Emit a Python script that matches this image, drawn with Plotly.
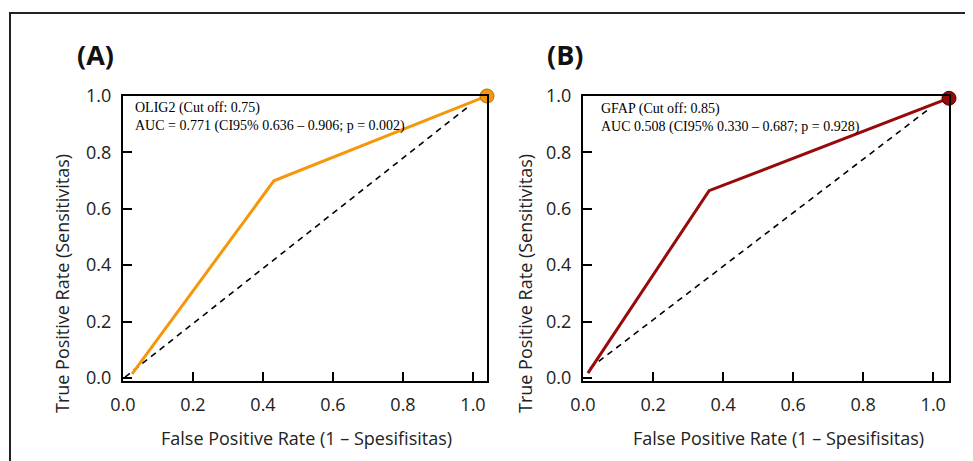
import plotly.graph_objects as go

# page body has an 8px margin: figure is sized to fill the rest of the 973x461 window
OFF = 8
W, H = 973 - OFF, 461 - OFF

# ---- data ----
fpr_a = [0.026, 0.431, 1.04]
tpr_a = [0.014, 0.699, 1.0]
ref_x_a = [0.006, 0.983]
ref_y_a = [0.003, 0.959]

fpr_b = [0.014, 0.36, 1.045]
tpr_b = [0.017, 0.664, 0.992]
ref_x_b = [0.02, 0.993]
ref_y_b = [0.035, 0.959]

tick_vals = [0.0, 0.2, 0.4, 0.6, 0.8, 1.0]
tick_text = ["0.0", "0.2", "0.4", "0.6", "0.8", "1.0"]

label_a = "OLIG2 (Cut off: 0.75)<br>AUC = 0.771 (CI95% 0.636 – 0.906; p = 0.002)"
label_b = "GFAP (Cut off: 0.85)<br>AUC 0.508 (CI95% 0.330 – 0.687; p = 0.928)"
x_title = "False Positive Rate (1 – Spesifisitas)"
y_title = "True Positive Rate (Sensitivitas)"

orange = "#F6960A"
darkred = "#960A0A"

def px(x):
    return (x - OFF) / W

def py(y):
    return 1 - (y - OFF) / H

fig = go.Figure()

# Panel A
fig.add_trace(go.Scatter(x=ref_x_a, y=ref_y_a, mode="lines", xaxis="x", yaxis="y",
                         line=dict(color="black", width=1.6, dash="6px,5px"), showlegend=False))
fig.add_trace(go.Scatter(x=fpr_a, y=tpr_a, mode="lines", xaxis="x", yaxis="y",
                         line=dict(color=orange, width=3), showlegend=False, cliponaxis=False))
fig.add_trace(go.Scatter(x=[fpr_a[-1]], y=[tpr_a[-1]], mode="markers", xaxis="x", yaxis="y",
                         marker=dict(color=orange, size=14, line=dict(color="#B86E00", width=1)),
                         showlegend=False, cliponaxis=False))
# Panel B
fig.add_trace(go.Scatter(x=ref_x_b, y=ref_y_b, mode="lines", xaxis="x2", yaxis="y2",
                         line=dict(color="black", width=1.6, dash="6px,5px"), showlegend=False))
fig.add_trace(go.Scatter(x=fpr_b, y=tpr_b, mode="lines", xaxis="x2", yaxis="y2",
                         line=dict(color=darkred, width=3), showlegend=False, cliponaxis=False))
fig.add_trace(go.Scatter(x=[fpr_b[-1]], y=[tpr_b[-1]], mode="markers", xaxis="x2", yaxis="y2",
                         marker=dict(color=darkred, size=14, line=dict(color="#5A0000", width=1)),
                         showlegend=False, cliponaxis=False))

tickfont = dict(family="Open Sans", size=18, color="#222")
common = dict(tickmode="array", tickvals=tick_vals, ticktext=tick_text, ticks="inside",
              ticklen=9, tickwidth=1.5, tickcolor="black", showline=True, linecolor="black",
              linewidth=2, mirror=True, showgrid=False, zeroline=False, tickfont=tickfont,
              ticklabelstandoff=6, automargin=False)

ydom = [py(381), py(96)]
fig.update_layout(
    template="none",
    width=W, height=H, margin=dict(l=0, r=0, t=0, b=0, pad=0), autosize=False,
    paper_bgcolor="white", plot_bgcolor="white",
    xaxis=dict(domain=[px(123), px(487)], range=[0, 1.04], anchor="y", **common),
    yaxis=dict(domain=ydom, range=[-0.011, 1.0], anchor="x", **common),
    xaxis2=dict(domain=[px(583), px(949)], range=[0, 1.045], anchor="y2", **common),
    yaxis2=dict(domain=ydom, range=[-0.011, 1.0], anchor="x2", **common),
)

ann = []
serif = dict(family="Liberation Serif", size=14, color="#000")
ann.append(dict(x=px(133), y=py(98), xref="paper", yref="paper", text=label_a, showarrow=False,
                xanchor="left", yanchor="top", align="left", font=serif))
ann.append(dict(x=px(599), y=py(99), xref="paper", yref="paper", text=label_b, showarrow=False,
                xanchor="left", yanchor="top", align="left", font=serif))
bold = dict(family="Open Sans", size=27, color="#111", weight="bold")
ann.append(dict(x=px(95), y=py(55), xref="paper", yref="paper", text="<b>(A)</b>", showarrow=False,
                xanchor="center", yanchor="middle", font=bold))
ann.append(dict(x=px(565), y=py(55), xref="paper", yref="paper", text="<b>(B)</b>", showarrow=False,
                xanchor="center", yanchor="middle", font=bold))
tfont = dict(family="Open Sans", size=18, color="#222")
for xc in (306, 778):
    ann.append(dict(x=px(xc), y=py(438), xref="paper", yref="paper", text=x_title, showarrow=False,
                    xanchor="center", yanchor="middle", font=tfont))
for xc in (62, 525):
    ann.append(dict(x=px(xc), y=py(284), xref="paper", yref="paper", text=y_title, showarrow=False,
                    xanchor="center", yanchor="middle", textangle=-90, font=tfont))
fig.update_layout(annotations=ann)

fig.add_shape(type="rect", xref="paper", yref="paper", x0=px(10), x1=px(990), y0=py(480), y1=py(13),
              line=dict(color="#222", width=2), fillcolor="rgba(0,0,0,0)", layer="below")

fig.write_html("out.html")
